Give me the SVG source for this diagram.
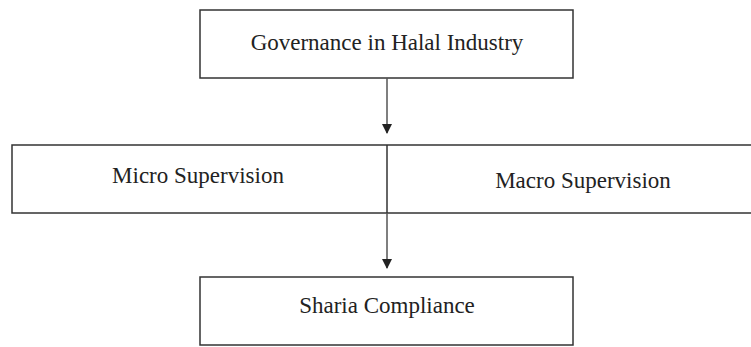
<svg xmlns="http://www.w3.org/2000/svg" width="751" height="347" viewBox="0 0 751 347">
<style>
.box{fill:#fff;stroke:#333;stroke-width:1.5}
.t{font-family:"Liberation Serif","Times New Roman",serif;font-size:23px;fill:#222;text-anchor:middle}
.c{stroke:#555;stroke-width:1.5;fill:none}
</style>
<defs>
<marker id="ah" markerWidth="10" markerHeight="10" refX="9" refY="5" orient="auto" markerUnits="userSpaceOnUse">
<path d="M0,0 L10,5 L0,10 Z" fill="#222"/>
</marker>
</defs>
<rect width="751" height="347" fill="#fff"/>
<g id="governance">
<rect class="box" x="200" y="10" width="373" height="68"/>
<text class="t" x="387" y="50">Governance in Halal Industry</text>
</g>
<g id="supervision">
<rect class="box" x="12" y="145" width="745" height="68"/>
<line x1="387" y1="145" x2="387" y2="213" stroke="#333" stroke-width="1.5"/>
</g>
<g id="micro">
<text class="t" x="198" y="183">Micro Supervision</text>
</g>
<g id="macro">
<text class="t" x="583" y="188">Macro Supervision</text>
</g>
<g id="sharia">
<rect class="box" x="200" y="277" width="373" height="68"/>
<text class="t" x="387" y="313">Sharia Compliance</text>
</g>
<g id="connectors">
<line class="c" x1="387" y1="78" x2="387" y2="133" marker-end="url(#ah)"/>
<line class="c" x1="387" y1="213" x2="387" y2="268" marker-end="url(#ah)"/>
</g>
</svg>
